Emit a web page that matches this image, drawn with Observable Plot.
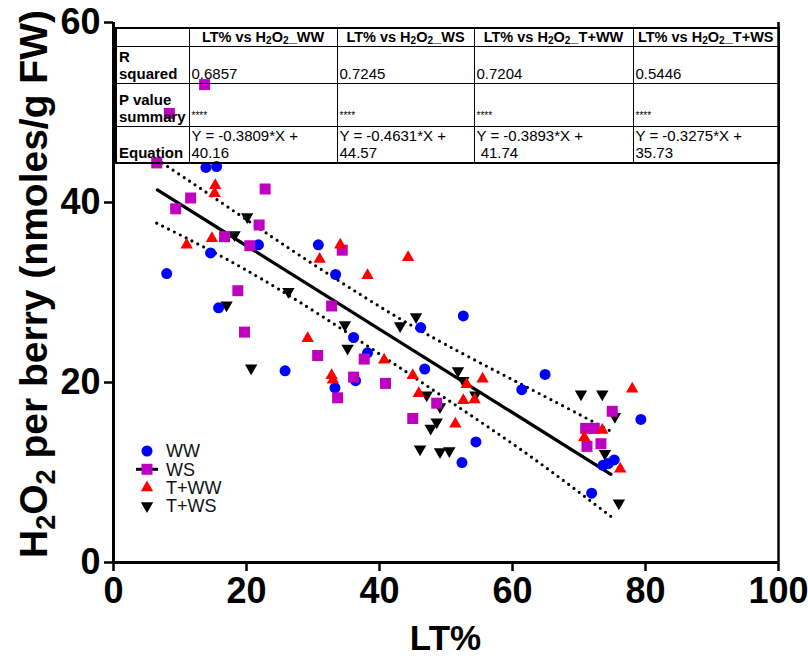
<!DOCTYPE html>
<html><head><meta charset="utf-8">
<script src="https://cdn.jsdelivr.net/npm/d3@7"></script>
<script src="https://cdn.jsdelivr.net/npm/@observablehq/plot@0.6"></script>
<style>
body{margin:0;background:#fff;}
#wrap{position:relative;width:808px;height:659px;font-family:"Liberation Sans",Arial,sans-serif;}
#wrap svg{position:absolute;left:0;top:0;}
#tbl{position:absolute;left:115px;top:27px;border-collapse:collapse;border:2px solid #000;table-layout:fixed;width:663px;background:transparent;}
#tbl td{border:1px solid #000;padding:0 0 1px 2px;vertical-align:bottom;font-size:15px;line-height:17px;overflow:hidden;white-space:nowrap;color:#000;}
#tbl td.lab{font-weight:bold;}
#tbl td.star{font-size:10px;line-height:12px;padding-bottom:4px;}
#tbl th{border:1px solid #000;font-size:14.5px;font-weight:bold;padding:0;line-height:16px;text-align:center;white-space:nowrap;overflow:hidden;color:#000;}
#tbl sub{font-size:70%;vertical-align:-2px;line-height:0;}
</style></head>
<body>
<div id="wrap"></div>
<script>
// ---- data ----
const groups = ["WW", "WS", "T+WW", "T+WS"];
const colors = ["#0000ff", "#c000c0", "#ff0000", "#000000"];

const wwX = [13.9,15.5,21.8,30.8,33.4,14.6,8.0,15.8,52.6,46.2,36.1,38.2,46.8,36.4,33.3,54.5,52.4,64.9,61.4,79.3,73.6,74.4,75.3,71.9,25.8];
const wwY = [43.9,44.0,35.3,35.3,32.0,34.4,32.1,28.3,27.4,26.1,25.0,23.3,21.5,20.2,19.4,13.4,11.1,20.9,19.2,15.9,10.8,11.0,11.4,7.7,21.3];

const wsX = [6.5,13.7,8.4,22.8,11.6,9.35,21.9,16.7,20.5,34.4,18.7,32.8,19.7,30.7,37.7,36.1,40.9,33.7,48.6,45.0,75.0,71.0,72.3,71.2,73.3];
const wsY = [44.4,53.1,49.9,41.5,40.5,39.3,37.5,36.2,35.2,34.7,30.2,28.5,25.6,23.0,22.6,20.6,19.9,18.3,17.7,16.0,16.8,14.9,14.9,12.9,13.2];

const twwX = [15.3,15.2,14.8,11.0,34.1,31.0,44.3,38.2,29.2,40.7,55.5,45.0,53.1,32.8,33.0,45.9,52.6,54.3,51.4,78.0,73.5,70.8,76.2];
const twwY = [41.9,41.0,36.0,35.3,35.3,33.7,33.9,31.9,24.9,22.5,20.4,20.8,19.8,20.8,20.3,18.8,18.0,18.1,15.4,19.3,14.7,13.9,10.4];

const twsX = [20.1,18.2,26.3,17.0,45.5,43.1,34.8,35.2,51.8,52.6,47.1,54.4,49.1,48.6,47.7,46.1,49.1,50.5,20.7,70.3,73.5,75.4,73.9,76.0];
const twsY = [38.4,36.4,30.1,28.6,27.3,26.3,26.4,23.8,21.3,20.2,18.6,18.6,17.3,15.6,14.9,12.6,12.3,12.4,21.6,18.7,18.7,16.2,12.1,6.6];

// regression line and 95% confidence band
const fitX = [6.6, 74.8];
const fitY = [41.4, 9.8];
const upperX = [6.5, 15, 25, 37.5, 50, 65, 75];
const upperY = [44.8, 40.6, 35.6, 29.6, 24.2, 18.4, 14.5];
const lowerX = [6.5, 15, 25, 37.5, 50, 62.5, 75];
const lowerY = [37.7, 34.5, 30.3, 24.4, 18.2, 11.9, 5.0];

// axes
const xTicks = [0, 20, 40, 60, 80, 100];
const yTicks = [0, 20, 40, 60];
const xDomain = [0, 100];
const yDomain = [0, 60];

// table
const tableCols = ["WW", "WS", "T+WW", "T+WS"];
const rSquared = ["0.6857", "0.7245", "0.7204", "0.5446"];
const pSummary = ["****", "****", "****", "****"];
const eqLine1 = ["Y = -0.3809*X +", "Y = -0.4631*X +", "Y = -0.3893*X +", "Y = -0.3275*X +"];
const eqLine2 = ["40.16", "44.57", "\u00a041.74", "35.73"];

// ---- build ----
const zip = (xs, ys) => xs.map((x, i) => ({x, y: ys[i]}));
const ww = zip(wwX, wwY), ws = zip(wsX, wsY), tww = zip(twwX, twwY), tws = zip(twsX, twsY);

const sqrt3 = Math.sqrt(3);
const triangleDown = {
  draw(context, size) {
    const h = Math.sqrt(size / (sqrt3 * 3));
    context.moveTo(0, 2 * h);
    context.lineTo(-sqrt3 * h, -h);
    context.lineTo(sqrt3 * h, -h);
    context.closePath();
  }
};
const symbols = [d3.symbolCircle, d3.symbolSquare, d3.symbolTriangle, triangleDown];
const radii = [5.5, 6.2, 4.6, 4.6];

const font = "'Liberation Sans', Arial, sans-serif";

const plot = Plot.plot({
  width: 808,
  height: 659,
  marginLeft: 113,
  marginRight: 30,
  marginTop: 22,
  marginBottom: 97,
  style: {fontFamily: font, background: "transparent", overflow: "visible"},
  x: {domain: xDomain},
  y: {domain: yDomain},
  marks: [
    Plot.line(zip(upperX, upperY), {x: "x", y: "y", stroke: "black", strokeWidth: 3.2, strokeDasharray: "0,6.6", strokeLinecap: "round", curve: "natural"}),
    Plot.line(zip(lowerX, lowerY), {x: "x", y: "y", stroke: "black", strokeWidth: 3.2, strokeDasharray: "0,6.6", strokeLinecap: "round", curve: "natural"}),
    Plot.line(zip(fitX, fitY), {x: "x", y: "y", stroke: "black", strokeWidth: 3.2}),
    Plot.dot(tws, {x: "x", y: "y", symbol: symbols[3], r: radii[3], fill: colors[3], stroke: "none"}),
    Plot.dot(ww, {x: "x", y: "y", symbol: symbols[0], r: radii[0], fill: colors[0], stroke: "none"}),
    Plot.dot(ws, {x: "x", y: "y", symbol: symbols[1], r: radii[1], fill: colors[1], stroke: "none"}),
    Plot.dot(tww, {x: "x", y: "y", symbol: symbols[2], r: radii[2], fill: colors[2], stroke: "none"}),
    Plot.ruleX([xDomain[1]], {stroke: "black", strokeWidth: 2.5}),
    Plot.ruleX([xDomain[0]], {stroke: "black", strokeWidth: 3}),
    Plot.ruleY([yDomain[0]], {stroke: "black", strokeWidth: 3}),
    Plot.axisX({ticks: xTicks, tickSize: 9, tickPadding: 6, fontSize: 36, fontWeight: "bold", strokeWidth: 2.5, label: null, tickFormat: d => String(d)}),
    Plot.axisY({ticks: yTicks, tickSize: 9, tickPadding: 4, fontSize: 36, fontWeight: "bold", strokeWidth: 2.5, label: null, tickFormat: d => String(d)})
  ]
});

const wrap = document.getElementById("wrap");
wrap.appendChild(plot);
const svg = d3.select(plot);
svg.selectAll('g[aria-label$="tick label"] text').style("font-weight", "bold").style("fill", "#000");

// y-axis title with subscripts
const yt = svg.append("text")
  .attr("transform", "translate(47,284) rotate(-90)")
  .attr("text-anchor", "middle")
  .style("font-family", font).style("font-weight", "bold").style("font-size", "39px").style("fill", "#000");
yt.append("tspan").text("H");
yt.append("tspan").text("2").style("font-size", "27px").attr("dy", 8);
yt.append("tspan").text("O").attr("dy", -8);
yt.append("tspan").text("2").style("font-size", "27px").attr("dy", 8);
yt.append("tspan").text(" per berry (nmoles/g FW)").attr("dy", -8);

// x-axis title
svg.append("text")
  .attr("x", (113 + 778) / 2).attr("y", 650)
  .attr("text-anchor", "middle")
  .style("font-family", font).style("font-weight", "bold").style("font-size", "35px").style("fill", "#000")
  .text("LT%");

// legend
const lg = svg.append("g").attr("transform", "translate(147,451)");
groups.forEach((g, i) => {
  const row = lg.append("g").attr("transform", `translate(0,${i * 18.3})`);
  if (i === 1) row.append("line").attr("x1", -11).attr("x2", 11).attr("stroke", "#000").attr("stroke-width", 3);
  row.append("path").attr("d", d3.symbol(symbols[i], Math.PI * radii[i] * radii[i])()).attr("fill", colors[i]);
  row.append("text").attr("x", 19).attr("dy", "0.36em").attr("text-anchor", "start")
    .style("font-family", font).style("font-size", "18px").style("fill", "#111").text(g);
});

// statistics table (overlay)
const sub2 = "H<sub>2</sub>O<sub>2</sub>";
const colW = [73, 148, 137, 159, 146];
let html = '<table id="tbl"><colgroup>' + colW.map(w => `<col style="width:${w}px">`).join("") + '</colgroup>';
html += '<tr style="height:18px"><th></th>' + tableCols.map(c => `<th>LT% vs ${sub2}_${c}</th>`).join("") + '</tr>';
html += '<tr style="height:37px"><td class="lab">R<br>squared</td>' + rSquared.map(v => `<td>${v}</td>`).join("") + '</tr>';
html += '<tr style="height:43px"><td class="lab">P value<br>summary</td>' + pSummary.map(v => `<td class="star">${v}</td>`).join("") + '</tr>';
html += '<tr style="height:33px"><td class="lab">Equation</td>' + eqLine1.map((v, i) => `<td>${v}<br>${eqLine2[i]}</td>`).join("") + '</tr>';
html += '</table>';
wrap.insertAdjacentHTML("beforeend", html);
</script>
</body></html>
